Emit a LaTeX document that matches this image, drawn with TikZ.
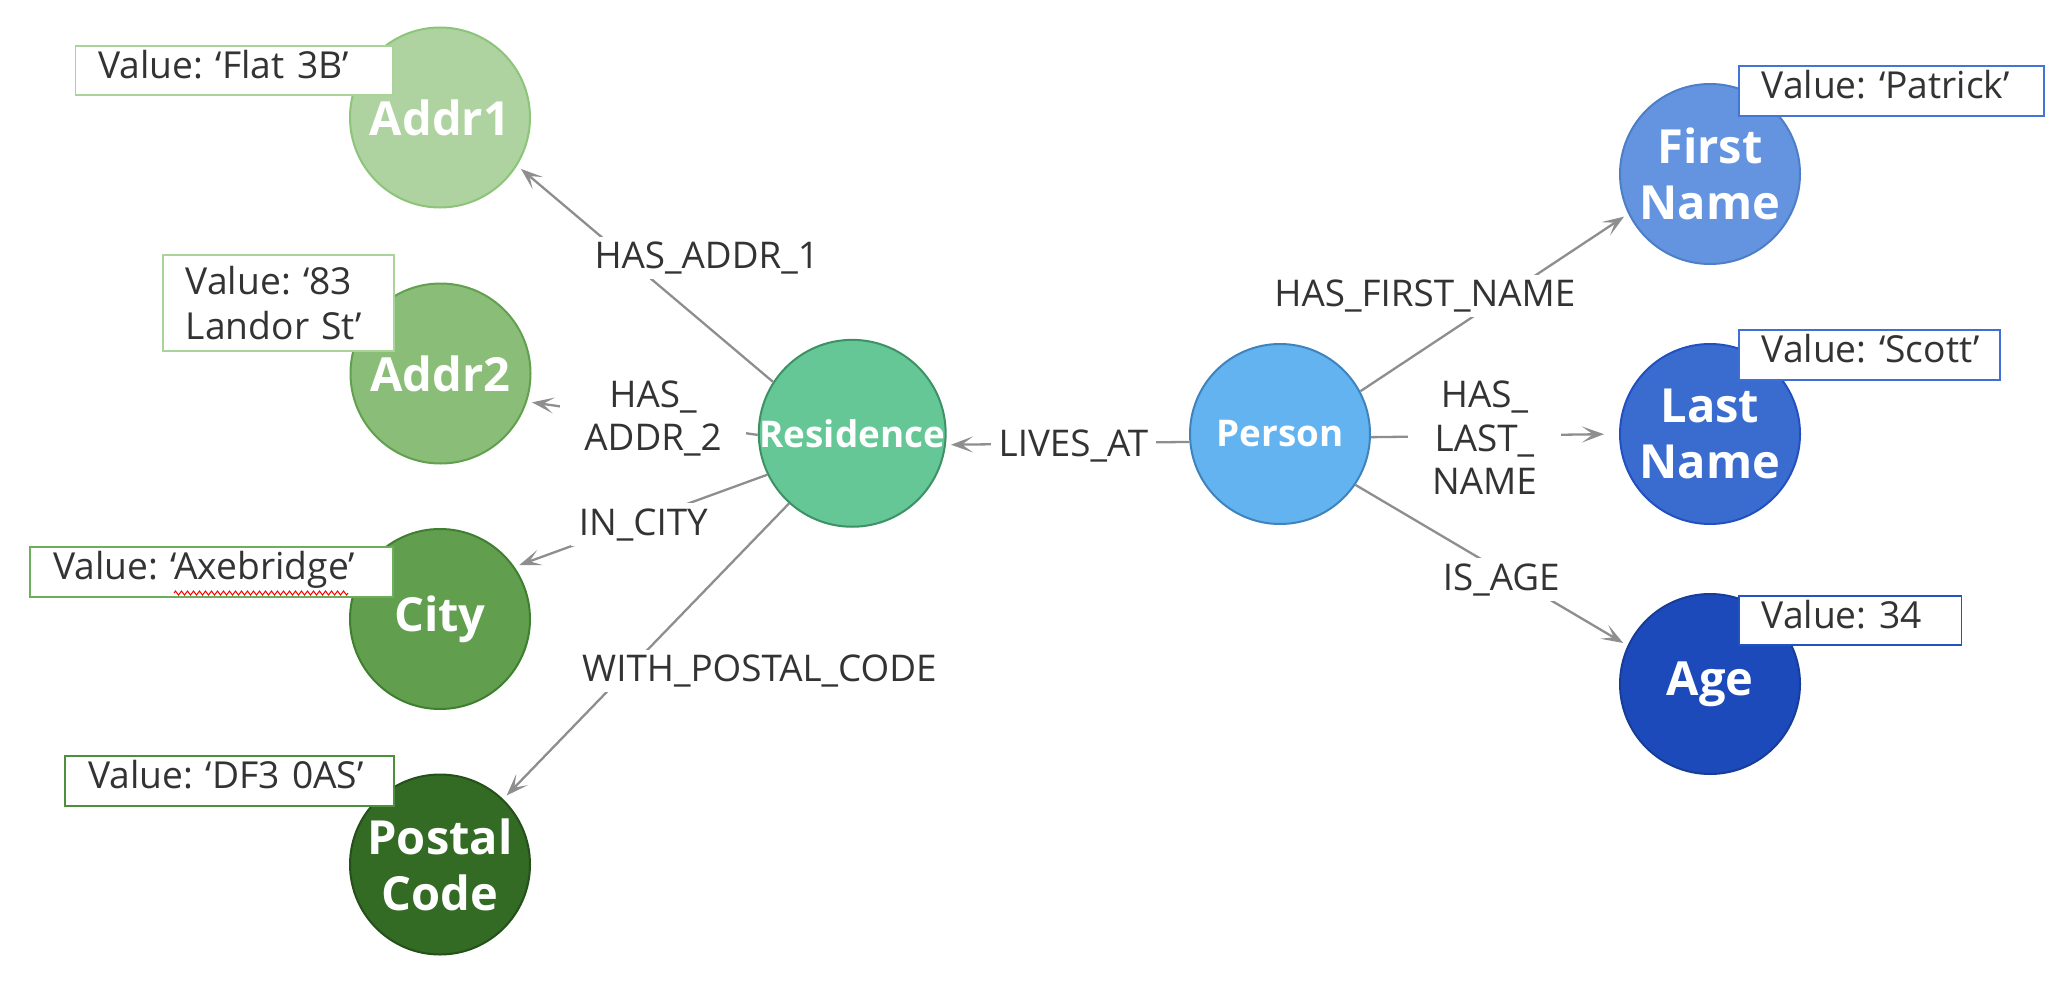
\documentclass[tikz,border=0pt]{standalone}
\usepackage{fontspec}
\setmainfont{Open Sans}
\frenchspacing
\usetikzlibrary{arrows.meta,decorations.pathmorphing}
\definecolor{edgegray}{HTML}{8E8E8E}
\definecolor{textgray}{HTML}{333333}
\definecolor{aoneF}{HTML}{AED3A0}\definecolor{aoneD}{HTML}{8CC47A}
\definecolor{atwoF}{HTML}{8ABE78}\definecolor{atwoD}{HTML}{62A050}
\definecolor{cityF}{HTML}{619F4F}\definecolor{cityD}{HTML}{3F7F30}
\definecolor{postF}{HTML}{336A24}\definecolor{postD}{HTML}{24501A}
\definecolor{resF}{HTML}{64C795}\definecolor{resD}{HTML}{3D9164}
\definecolor{perF}{HTML}{62B3EF}\definecolor{perD}{HTML}{3F83BC}
\definecolor{firF}{HTML}{6494E0}\definecolor{firD}{HTML}{4C7FC8}
\definecolor{lasF}{HTML}{3A6CD0}\definecolor{lasD}{HTML}{2350C0}
\definecolor{ageF}{HTML}{1C4ABB}\definecolor{ageD}{HTML}{173D99}
\definecolor{bxA}{HTML}{A8D49A}\definecolor{bxB}{HTML}{A8D49A}
\definecolor{bxC}{HTML}{6DAE5C}\definecolor{bxD}{HTML}{4E8F3E}
\definecolor{bxE}{HTML}{4375D8}\definecolor{bxF}{HTML}{3F6FD6}
\definecolor{bxG}{HTML}{2452C4}
\begin{document}
\begin{tikzpicture}[x=0.5pt,y=-0.5pt,
  ent/.style={circle, minimum size=90pt, inner sep=0pt, line width=1pt, text=white,
    font=\fontsize{23.5pt}{28pt}\selectfont\bfseries, align=center},
  entsm/.style={ent, font=\fontsize{18.4pt}{22pt}\selectfont\bfseries},
  rel/.style={draw=edgegray, line width=1.15pt,
    -{Stealth[length=11pt,width=8pt,inset=5.5pt]}, shorten >=2.5pt},
  lab/.style={fill=white, text=textgray, font=\fontsize{18.4pt}{22pt}\selectfont,
    inner xsep=4pt, inner ysep=2.5pt, anchor=base},
  mlab/.style={fill=white, text=textgray, font=\fontsize{18.4pt}{21.7pt}\selectfont,
    align=center, inner xsep=12pt, inner ysep=2.5pt},
  valbox/.style={draw, fill=white, line width=0.9pt, text=textgray,
    font=\fontsize{18.6pt}{23pt}\selectfont, anchor=north west, align=left,
    inner xsep=11.5pt, inner ysep=0pt, text height=.76em, text depth=0pt},
  valboxtwo/.style={draw, fill=white, line width=0.9pt, text=textgray,
    font=\fontsize{18.6pt}{22.8pt}\selectfont, anchor=north west, align=left,
    inner xsep=11.5pt, inner ysep=0pt}
]
\useasboundingbox (0,0) rectangle (2072,990);

% entity nodes
\node[ent, fill=aoneF, draw=aoneD] (addr1) at (440,117.5) {Addr1};
\node[ent, fill=atwoF, draw=atwoD] (addr2) at (440.5,373.5) {Addr2};
\node[ent, fill=cityF, draw=cityD] (city) at (440,619) {City};
\node[ent, fill=postF, draw=postD] (postal) at (440,864.5) {Postal\\Code};
\node[entsm, fill=resF, draw=resD] (res) at (852.2,433.3) {Residence};
\node[entsm, fill=perF, draw=perD] (person) at (1280,434) {Person};
\node[ent, fill=firF, draw=firD] (first) at (1710,174) {First\\Name};
\node[ent, fill=lasF, draw=lasD] (last) at (1710,434) {Last\\Name};
\node[ent, fill=ageF, draw=ageD] (age) at (1710,684) {Age};

% relationships
\draw[rel] (res.147) -- (addr1.-32);
\draw[rel] (res.181) -- (addr2.-18);
\draw[rel] (res.206) -- (city.35);
\draw[rel] (res.228) -- (postal.46);
\draw[rel] (person.185) -- (res.-7);
\draw[rel] (person.28) -- (first.206);
\draw[rel, shorten >=7.5pt] (person.-2.5) -- (last.180);
\draw[rel] (person.-34) -- (age.155);

% relationship labels
\node[lab] (lhas1) at (706.7,268.3) {HAS\_ADDR\_1};
\node[mlab] (lhas2) at (653,418.5) {HAS\_\\ADDR\_2};
\node[lab] (lcity) at (643.3,535) {IN\_CITY};
\node[lab] (lpost) at (759.4,681.7) {WITH\_POSTAL\_CODE};
\node[lab] (llives) at (1073.4,456) {LIVES\_AT};
\node[lab] (lfirst) at (1424.9,306.8) {HAS\_FIRST\_NAME};
\node[mlab] (llast) at (1484.4,438) {HAS\_\\LAST\_\\NAME};
\node[lab] (lage) at (1501.2,590) {IS\_AGE};

% value boxes
\node[valbox, draw=bxA, text width=135.7pt, minimum height=24.85pt] (vflat) at (74.6,44.8) {\mbox{Value: ‘Flat 3B’}};
\node[valboxtwo, draw=bxB, text width=92.5pt, minimum height=48pt] (vlandor) at (162,254) {Value: ‘83\\Landor St’};
\node[valbox, draw=bxC, text width=158.35pt, minimum height=24.95pt] (vaxe) at (29.3,546.4) {\mbox{Value: ‘Axebridge’}};
\node[valbox, draw=bxD, text width=141.45pt, minimum height=25.2pt] (vdf) at (64.4,755) {\mbox{Value: ‘DF3 0AS’}};
\node[valbox, draw=bxE, text width=129.6pt, minimum height=24.95pt] (vpat) at (1737.7,65.5) {\mbox{Value: ‘Patrick’}};
\node[valbox, draw=bxF, text width=107.55pt, minimum height=24.9pt] (vscott) at (1737.7,329.3) {\mbox{Value: ‘Scott’}};
\node[valbox, draw=bxG, text width=88.4pt, minimum height=24.4pt] (vage) at (1737.7,595.2) {\mbox{Value: 34}};

% spell-check underline
\draw[red, line width=0.5pt, decorate, decoration={zigzag, segment length=3pt, amplitude=1pt}] (174,593) -- (348,593);
\end{tikzpicture}
\end{document}
